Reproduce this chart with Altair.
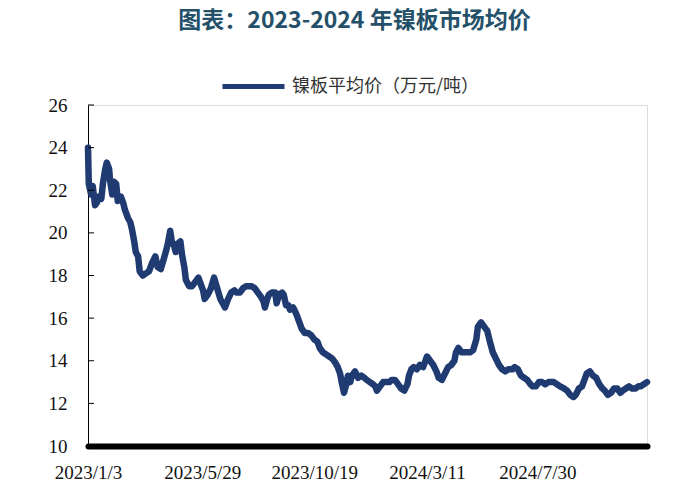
import altair as alt
import pandas as pd

series_name = "镍板平均价（万元/吨）"
chart_title = "图表：2023-2024 年镍板市场均价"

dates = [
    "2023-01-03", "2023-01-04", "2023-01-07", "2023-01-09", "2023-01-12", "2023-01-14",
    "2023-01-17", "2023-01-20", "2023-01-22", "2023-01-25", "2023-01-27", "2023-01-30",
    "2023-01-31", "2023-02-03", "2023-02-05", "2023-02-08", "2023-02-10", "2023-02-14",
    "2023-02-17", "2023-02-19", "2023-02-23", "2023-02-26", "2023-02-28", "2023-03-03",
    "2023-03-05", "2023-03-08", "2023-03-10", "2023-03-14", "2023-03-18", "2023-03-22",
    "2023-03-26", "2023-03-30", "2023-04-02", "2023-04-06", "2023-04-10", "2023-04-13",
    "2023-04-15", "2023-04-18", "2023-04-20", "2023-04-23", "2023-04-25", "2023-04-28",
    "2023-05-01", "2023-05-03", "2023-05-06", "2023-05-08", "2023-05-12", "2023-05-16",
    "2023-05-20", "2023-05-24", "2023-05-27", "2023-05-30", "2023-06-01", "2023-06-05",
    "2023-06-09", "2023-06-13", "2023-06-17", "2023-06-21", "2023-06-24", "2023-06-27",
    "2023-07-01", "2023-07-05", "2023-07-09", "2023-07-12", "2023-07-16", "2023-07-20",
    "2023-07-24", "2023-07-28", "2023-07-31", "2023-08-04", "2023-08-08", "2023-08-12",
    "2023-08-15", "2023-08-17", "2023-08-20", "2023-08-22", "2023-08-26", "2023-08-30",
    "2023-09-01", "2023-09-04", "2023-09-08", "2023-09-10", "2023-09-13", "2023-09-16",
    "2023-09-18", "2023-09-22", "2023-09-26", "2023-09-30", "2023-10-03", "2023-10-07",
    "2023-10-11", "2023-10-15", "2023-10-19", "2023-10-23", "2023-10-26", "2023-10-30",
    "2023-11-03", "2023-11-07", "2023-11-11", "2023-11-15", "2023-11-18", "2023-11-21",
    "2023-11-23", "2023-11-26", "2023-11-29", "2023-12-01", "2023-12-04", "2023-12-06",
    "2023-12-10", "2023-12-14", "2023-12-18", "2023-12-22", "2023-12-25", "2023-12-29",
    "2024-01-02", "2024-01-05", "2024-01-07", "2024-01-11", "2024-01-15", "2024-01-19",
    "2024-01-23", "2024-01-26", "2024-01-30", "2024-02-03", "2024-02-07", "2024-02-11",
    "2024-02-15", "2024-02-17", "2024-02-20", "2024-02-23", "2024-02-27", "2024-03-02",
    "2024-03-06", "2024-03-09", "2024-03-11", "2024-03-15", "2024-03-19", "2024-03-23",
    "2024-03-26", "2024-03-30", "2024-04-03", "2024-04-07", "2024-04-11", "2024-04-15",
    "2024-04-17", "2024-04-20", "2024-04-24", "2024-04-27", "2024-05-01", "2024-05-05",
    "2024-05-09", "2024-05-13", "2024-05-15", "2024-05-19", "2024-05-23", "2024-05-27",
    "2024-05-31", "2024-06-03", "2024-06-07", "2024-06-11", "2024-06-15", "2024-06-19",
    "2024-06-23", "2024-06-28", "2024-07-01", "2024-07-05", "2024-07-09", "2024-07-13",
    "2024-07-17", "2024-07-21", "2024-07-24", "2024-07-28", "2024-08-01", "2024-08-05",
    "2024-08-09", "2024-08-13", "2024-08-16", "2024-08-20", "2024-08-24", "2024-08-28",
    "2024-09-02", "2024-09-06", "2024-09-10", "2024-09-14", "2024-09-17", "2024-09-21",
    "2024-09-25", "2024-09-29", "2024-10-01", "2024-10-05", "2024-10-09", "2024-10-13",
    "2024-10-17", "2024-10-21", "2024-10-24", "2024-10-28", "2024-11-01", "2024-11-05",
    "2024-11-09", "2024-11-13", "2024-11-16", "2024-11-20", "2024-11-24", "2024-11-28",
    "2024-12-02", "2024-12-06", "2024-12-09", "2024-12-13", "2024-12-17",
]

prices = [
    24.0, 22.3, 21.8, 22.2, 21.3, 21.4,
    21.7, 21.6, 22.3, 23.0, 23.3, 23.0,
    22.5, 21.8, 22.4, 22.3, 21.5, 21.7,
    21.4, 21.1, 20.7, 20.5, 20.2, 19.6,
    19.1, 18.9, 18.2, 18.0, 18.1, 18.2,
    18.6, 18.9, 18.4, 18.3, 18.8, 19.2,
    19.5, 20.1, 19.6, 19.4, 19.1, 19.5,
    19.6, 19.0, 18.4, 17.8, 17.5, 17.5,
    17.7, 17.9, 17.6, 17.3, 16.9, 17.1,
    17.4, 17.9, 17.4, 16.9, 16.7, 16.5,
    16.9, 17.2, 17.3, 17.2, 17.2, 17.4,
    17.5, 17.5, 17.5, 17.4, 17.2, 17.0,
    16.8, 16.5, 16.9, 17.1, 17.2, 17.2,
    16.7, 17.1, 17.2, 17.1, 16.6, 16.6,
    16.4, 16.5, 16.2, 15.8, 15.5, 15.3,
    15.3, 15.2, 15.0, 14.9, 14.6, 14.4,
    14.3, 14.2, 14.1, 13.9, 13.7, 13.4,
    13.0, 12.5, 12.9, 13.3, 13.0, 13.3,
    13.5, 13.2, 13.3, 13.2, 13.1, 13.0,
    12.9, 12.8, 12.6, 12.8, 13.0, 13.0,
    13.0, 13.1, 13.1, 12.9, 12.7, 12.6,
    12.9, 13.3, 13.6, 13.7, 13.6, 13.8,
    13.7, 14.0, 14.2, 14.0, 13.8, 13.5,
    13.2, 13.1, 13.4, 13.7, 13.8, 14.0,
    14.4, 14.6, 14.4, 14.4, 14.4, 14.4,
    14.5, 15.0, 15.6, 15.8, 15.6, 15.4,
    14.8, 14.4, 14.1, 13.8, 13.6, 13.5,
    13.6, 13.6, 13.7, 13.6, 13.3, 13.2,
    13.1, 12.9, 12.8, 12.8, 13.0, 13.0,
    12.9, 13.0, 13.0, 13.0, 12.9, 12.8,
    12.7, 12.6, 12.4, 12.3, 12.4, 12.7,
    12.8, 13.2, 13.4, 13.5, 13.3, 13.2,
    12.9, 12.7, 12.6, 12.4, 12.5, 12.7,
    12.7, 12.5, 12.6, 12.7, 12.8, 12.7,
    12.7, 12.8, 12.8, 12.9, 13.0,
]

y_labels = [10, 12, 14, 16, 18, 20, 22, 24, 26]
y_ticks = [12, 14, 16, 18, 20, 22, 24, 26]
x_label_dates = [(2023, 1, 3), (2023, 5, 29), (2023, 10, 19), (2024, 3, 11), (2024, 7, 30)]

line_color = "#1F3B72"

df = pd.DataFrame({"date": pd.to_datetime(dates), "price": prices, "series": series_name})
ticks_df = pd.DataFrame({"v": y_ticks})

y_scale = alt.Scale(domain=[10, 26], nice=False, zero=False)
x_scale = alt.Scale(domain=[alt.DateTime(year=2023, month=1, date=3),
                            alt.DateTime(year=2024, month=12, date=17)], nice=False)

y_axis = alt.Axis(values=y_labels, title=None, grid=False, ticks=False, tickSize=0,
                  labelFont="Liberation Serif", labelFontSize=19, labelColor="#111111",
                  labelPadding=21, domainColor="#000000", domainWidth=1)

line = alt.Chart(df).mark_line(strokeWidth=6.5, strokeJoin="round", strokeCap="round").encode(
    x=alt.X("date:T", scale=x_scale,
            axis=alt.Axis(values=[alt.DateTime(year=a, month=b, date=c) for a, b, c in x_label_dates],
                          format="%Y/%-m/%-d", title=None, grid=False, ticks=False, tickSize=0,
                          labelFont="Liberation Serif", labelFontSize=19, labelColor="#111111",
                          labelPadding=17, labelFlush=False, labelOverlap=False,
                          domainColor="#000000", domainWidth=6, domainCap="round")),
    y=alt.Y("price:Q", scale=y_scale, axis=y_axis),
    color=alt.Color("series:N", scale=alt.Scale(domain=[series_name], range=[line_color]),
                    legend=alt.Legend(orient="none", legendX=132, legendY=-52, title=None,
                                      symbolType="stroke", symbolStrokeWidth=5, symbolSize=3844,
                                      labelFont="Noto Sans CJK SC", labelFontSize=18,
                                      labelColor="#333333", labelOffset=5, labelLimit=400)),
)

tick_marks = alt.Chart(ticks_df).mark_rule(color="#000000", strokeWidth=1).encode(
    y=alt.Y("v:Q", scale=y_scale, axis=y_axis),
    x=alt.value(0),
    x2=alt.value(6),
)

chart = alt.layer(line, tick_marks).properties(
    width=559,
    height=341,
    title=alt.TitleParams(chart_title, font="Noto Sans CJK SC", fontSize=23, fontWeight="bold",
                          color="#245069", anchor="middle", frame="group", offset=20, dx=-13),
    autosize=alt.AutoSizeParams(type="none"),
    padding={"left": 88, "top": 105, "right": 41, "bottom": 54},
).configure_view(stroke=None).configure(background="white")

chart.save("out.html", embed_options={"renderer": "svg", "actions": False})
